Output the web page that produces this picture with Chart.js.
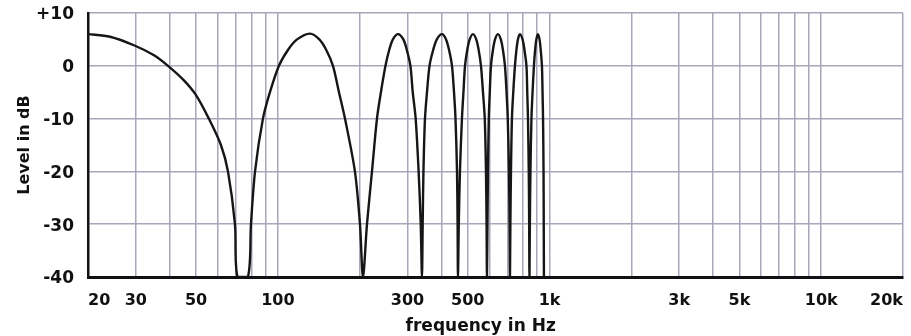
<!DOCTYPE html>
<html>
<head>
<meta charset="utf-8">
<script src="https://cdn.jsdelivr.net/npm/chart.js@4/dist/chart.umd.min.js"></script>
<style>
  body { margin: 0; background: #fff; }
  #wrap { width: 911px; height: 336px; }
</style>
</head>
<body>
<div id="wrap"><canvas id="combChart" width="911" height="336"></canvas></div>
<script>
// curve: frequency (Hz) and level (dB), lobe by lobe
const freqs = [
    20, 24.1, 29.8, 35, 39.4, 45, 49.9, 55.7, 61.7, 65.5, 69.5, 71,
    77.6, 79.6, 82.4, 88.1, 93.5, 100.9, 108.9, 117.6, 131.3, 142.1, 150.7, 159.5, 167.8, 176.6, 192.1, 200.5, 205.7,
    212.8, 222, 231.6, 239.5, 248.9, 256.9, 265.1, 276.7, 289.6, 298.3, 307.5, 313.6, 321.5, 329.6, 335.6, 339.1,
    341.2, 343.4, 347.9, 353.9, 361.5, 372.9, 384.7, 401.8, 415.9, 426.7, 437.4, 444.9, 450.6, 456.4, 458.7, 460.1,
    463.3, 467.9, 475.9, 482, 488.4, 497.8, 508.2, 522.5, 537.2, 548.3, 559.2, 568.8, 577.5, 583.4, 586.4, 588.3,
    590.8, 593.4, 597.5, 602.5, 608.7, 618.9, 630, 645.6, 661.6, 673.6, 685.2, 694.6, 701.7, 708.9, 712.5, 715,
    717.4, 721.1, 727, 735.2, 745.8, 755.2, 764.8, 778, 795.4, 808.4, 822.2, 827.8, 832.8, 838.5, 841.3, 843.4,
    846.2, 850.4, 857.7, 865.8, 876, 884.9, 894.1, 906.2, 918.6, 927.9, 937.5, 942.3, 946.3, 950.3, 951.9, 953.4
];
const levels = [
    6, 5.5, 3.8, 2, 0, -2.7, -5.5, -10, -15, -20, -30, -40,
    -40, -30, -20, -10, -5, 0, 3, 5, 6.1, 5, 3, 0, -5, -10, -20, -30, -40,
    -30, -20, -10, -5, 0, 3, 5, 6, 5, 3, 0, -5, -10, -20, -30, -40,
    -30, -20, -10, -5, 0, 3, 5, 6, 5, 3, 0, -5, -10, -20, -30, -40,
    -30, -20, -10, -5, 0, 3, 5, 6, 5, 3, 0, -5, -10, -20, -30, -40,
    -30, -20, -10, -5, 0, 3, 5, 6, 5, 3, 0, -5, -10, -20, -30, -40,
    -30, -20, -10, -5, 0, 3, 5, 6, 5, 3, 0, -5, -10, -20, -30, -40,
    -30, -20, -10, -5, 0, 3, 5, 6, 5, 3, 0, -5, -10, -20, -30, -40
];

// vertical grid lines and which of them carry a label
const gridFreqs = [20, 30, 40, 50, 60, 70, 80, 90, 100, 200, 300, 400, 500, 600, 700, 800, 900,
    1000, 2000, 3000, 4000, 5000, 6000, 7000, 8000, 9000, 10000, 20000];
const tickFreqs = [20, 30, 50, 100, 300, 500, 1000, 3000, 5000, 10000, 20000];
const tickLabels = ['20', '30', '50', '100', '300', '500', '1k', '3k', '5k', '10k', '20k'];

const gridColor = '#a6a8ba';
const fontFamily = '"DejaVu Sans", sans-serif';

const points = freqs.map((f, i) => ({ x: f, y: levels[i] }));

new Chart(document.getElementById('combChart'), {
    type: 'line',
    data: {
        datasets: [{
            data: points,
            borderColor: '#161616',
            borderWidth: 2.4,
            pointRadius: 0,
            fill: false,
            tension: 0.3
        }]
    },
    options: {
        responsive: false,
        animation: false,
        layout: { padding: { left: 0, right: 8, top: 13, bottom: 0 } },
        plugins: { legend: { display: false }, tooltip: { enabled: false } },
        scales: {
            x: {
                type: 'logarithmic',
                min: 20,
                max: 20000,
                afterBuildTicks: axis => {
                    axis.ticks = gridFreqs.map(v => ({ value: v }));
                },
                afterFit: axis => {
                    // fixed band under the plot, no extra side padding
                    axis.height = 59;
                    axis.paddingLeft = 0;
                    axis.paddingRight = 0;
                },
                grid: { color: gridColor, lineWidth: 1.5, drawTicks: false },
                border: { color: '#111', width: 3 },
                ticks: {
                    autoSkip: false,
                    maxRotation: 0,
                    minRotation: 0,
                    align: 'inner',
                    padding: 14,
                    color: '#111',
                    font: { family: fontFamily, size: 16, weight: 'bold' },
                    callback: value => {
                        const i = tickFreqs.indexOf(value);
                        return i >= 0 ? tickLabels[i] : '';
                    }
                },
                title: {
                    display: true,
                    // trailing spaces nudge the title a little left of centre, as in the original
                    text: 'frequency in Hz     ',
                    color: '#111',
                    padding: { top: 0, bottom: 0.5 },
                    font: { family: fontFamily, size: 17, weight: 'bold', lineHeight: 1 }
                }
            },
            y: {
                min: -40,
                max: 10,
                afterFit: axis => {
                    axis.width = 88;
                    axis.paddingTop = 0;
                    axis.paddingBottom = 0;
                },
                grid: { color: gridColor, lineWidth: 1.5, drawTicks: false },
                border: { color: '#111', width: 2.5 },
                ticks: {
                    stepSize: 10,
                    padding: 14,
                    labelOffset: 2,
                    color: '#111',
                    font: { family: fontFamily, size: 17, weight: 'bold' },
                    callback: v => v > 0 ? '+' + v : String(v)
                },
                title: {
                    display: true,
                    text: 'Level in dB',
                    color: '#111',
                    padding: { top: 15, bottom: 0 },
                    font: { family: fontFamily, size: 16, weight: 'bold' }
                }
            }
        }
    }
});
</script>
</body>
</html>
